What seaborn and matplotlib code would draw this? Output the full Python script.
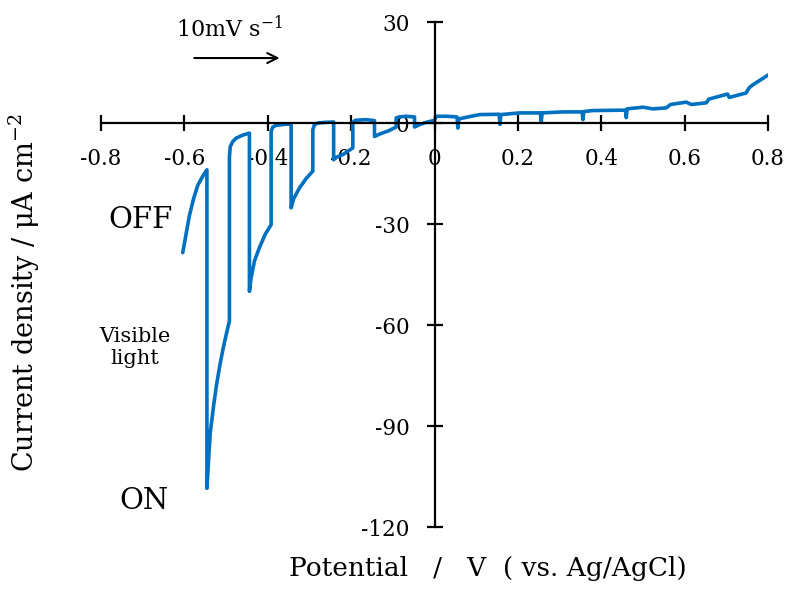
import numpy as np
import pandas as pd
import matplotlib
matplotlib.use("Agg")
import matplotlib.pyplot as plt
import seaborn as sns

# chopped-light linear sweep
potential = [-0.604, -0.596, -0.588, -0.578, -0.568, -0.556, -0.546,
             -0.546, -0.542, -0.538, -0.530, -0.523, -0.515, -0.508, -0.500, -0.492,
             -0.492, -0.490, -0.484, -0.476, -0.460, -0.444,
             -0.444, -0.440, -0.432, -0.420, -0.406, -0.392,
             -0.392, -0.388, -0.380, -0.360, -0.344,
             -0.344, -0.338, -0.324, -0.308, -0.292,
             -0.292, -0.288, -0.280, -0.262, -0.242,
             -0.242, -0.236, -0.220, -0.196,
             -0.196, -0.190, -0.164, -0.144,
             -0.144, -0.130, -0.110, -0.092,
             -0.092, -0.085, -0.068, -0.048,
             -0.048, -0.036, -0.020, 0.000, 0.004, 0.030, 0.054,
             0.056, 0.058, 0.080, 0.108, 0.155,
             0.157, 0.159, 0.204, 0.254,
             0.256, 0.258, 0.308, 0.354,
             0.356, 0.358, 0.380, 0.444, 0.458,
             0.460, 0.462, 0.500, 0.524, 0.556, 0.566, 0.604, 0.616,
             0.652, 0.658, 0.703, 0.707, 0.747, 0.755, 0.763, 0.802]
current = [-38.5, -33.0, -27.5, -22.5, -18.5, -15.8, -13.9,
           -108.5, -100.0, -92.0, -84.0, -77.8, -72.0, -67.5, -63.0, -58.8,
           -10.0, -7.0, -5.5, -4.5, -3.6, -3.0,
           -50.0, -46.0, -41.0, -37.0, -33.0, -30.2,
           -2.5, -1.2, -0.7, -0.4, -0.3,
           -25.2, -22.5, -19.3, -16.5, -14.3,
           -2.0, -0.5, 0.0, 0.2, 0.3,
           -10.9, -10.2, -9.4, -7.4,
           0.2, 0.8, 1.0, 0.7,
           -4.0, -3.2, -2.3, -1.2,
           1.5, 1.8, 2.0, 1.8,
           -1.2, -0.5, 0.2, 0.8, 2.0, 2.0, 1.8,
           -1.5, 1.2, 1.8, 2.5, 2.6,
           -0.4, 2.5, 3.0, 3.0,
           0.3, 3.0, 3.3, 3.3,
           1.0, 3.4, 3.7, 3.8, 3.8,
           1.6, 4.2, 4.7, 4.2, 4.5, 5.5, 6.2, 5.5,
           6.0, 7.1, 8.6, 7.6, 8.9, 10.5, 11.3, 14.4]

x_ticks = [-0.8, -0.6, -0.4, -0.2, 0, 0.2, 0.4, 0.6, 0.8]
x_tick_labels = ["-0.8", "-0.6", "-0.4", "-0.2", "0", "0.2", "0.4", "0.6", "0.8"]
y_ticks = [30, 0, -30, -60, -90, -120]

df = pd.DataFrame({"potential": potential, "current": current})

sns.set_theme(style="white")
plt.rcParams["font.family"] = ["DejaVu Serif"]
plt.rcParams["mathtext.fontset"] = "dejavuserif"
plt.rcParams["axes.unicode_minus"] = False
plt.rcParams["text.color"] = "black"
plt.rcParams["axes.labelcolor"] = "black"

fig, ax = plt.subplots(figsize=(7.93, 6.03), dpi=100)
plt.subplots_adjust(left=0.1274, right=0.9685, top=0.9635, bottom=0.126)

sns.lineplot(data=df, x="potential", y="current", sort=False, estimator=None,
             color="#0070C0", linewidth=2.6, ax=ax)

ax.set_xlim(-0.8, 0.8)
ax.set_ylim(-120, 30)

for side in ["top", "right"]:
    ax.spines[side].set_visible(False)
for side in ["left", "bottom"]:
    ax.spines[side].set_position("zero")
    ax.spines[side].set_color("black")
    ax.spines[side].set_linewidth(1.6)

ax.set_xticks(x_ticks)
ax.set_xticklabels(x_tick_labels)
ax.set_yticks(y_ticks)
ax.set_yticklabels([str(v) for v in y_ticks])
ax.tick_params(axis="x", bottom=True, direction="inout", length=11.5, width=1.6,
               pad=12, labelsize=15.5, colors="black")
ax.tick_params(axis="y", left=True, direction="inout", length=12, width=1.6,
               pad=12, labelsize=15.5, colors="black")

ax.set_xlabel("Potential   /   V  ( vs. Ag/AgCl)", fontsize=19)
ax.xaxis.set_label_coords(0.58, -0.058)
ax.set_ylabel("Current density / \u03bcA cm$^{-2}$", fontsize=19.5)
ax.yaxis.set_label_coords(-0.088, 0.463)

ax.text(-0.705, -28.8, "OFF", fontsize=21, ha="center", va="center")
ax.text(-0.698, -112.3, "ON", fontsize=21, ha="center", va="center")
ax.text(-0.719, -66.8, "Visible\nlight", fontsize=15, ha="center", va="center",
        linespacing=1.2)
ax.text(-0.492, 28.0, "10mV s$^{-1}$", fontsize=16, ha="center", va="center",
        clip_on=False)
ax.annotate("", xy=(-0.365, 19.3), xytext=(-0.583, 19.3),
            arrowprops=dict(arrowstyle="->", color="black", lw=1.5,
                            mutation_scale=18))

plt.savefig("out.png", dpi=100)
